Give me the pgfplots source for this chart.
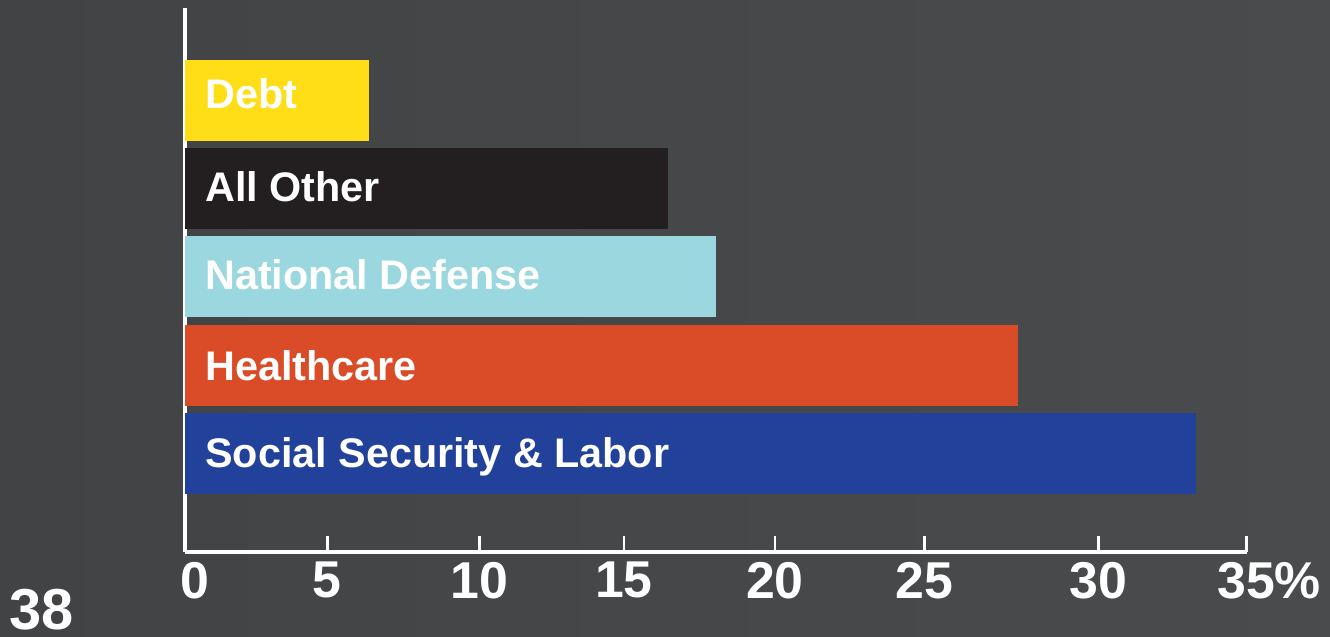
\documentclass[border=0pt]{standalone}
\usepackage{fontspec}
\setmainfont{Liberation Sans}
\usepackage{pgfplots}
\pgfplotsset{compat=1.18}
\definecolor{cdebt}{HTML}{FFDE17}
\definecolor{cother}{HTML}{231F20}
\definecolor{cdef}{HTML}{9BD7DF}
\definecolor{chealth}{HTML}{DA4C27}
\definecolor{css}{HTML}{22419A}
\definecolor{bgL}{HTML}{424345}
\definecolor{bgM}{HTML}{545557}
\definecolor{bgR}{HTML}{4A4B4D}
\begin{document}
\begin{tikzpicture}
\shade[left color=bgL, middle color=bgM, right color=bgR] (0bp,0bp) rectangle (1330bp,637bp);
\begin{axis}[
  at={(185bp,85bp)}, anchor=south west,
  scale only axis, width=1061.7bp, height=543.7bp,
  xmin=0, xmax=35, ymin=-1.119, ymax=5.045,
  axis x line=bottom, axis y line=left,
  axis line style={white, line width=3.3bp, -},
  xtick={0,4.69,9.70,14.47,19.45,24.37,30.11,35},
  xticklabels={\makebox[0pt][l]{\kern-5bp 0},5,10,15,20,25,30,35\rlap{\kern-1bp\%}},
  ytick=\empty,
  xtick align=inside,
  major tick length=16bp,
  tick style={white, line width=2.8bp},
  xticklabel style={text=white, font=\fontsize{52}{60}\selectfont\bfseries, inner sep=0pt, anchor=north, yshift=-9.7bp},
]
\addplot[xbar, bar shift=0pt, bar width=81bp, fill=css, draw=none] coordinates {(33.33,0)};
\addplot[xbar, bar shift=0pt, bar width=81bp, fill=chealth, draw=none] coordinates {(27.46,1)};
\addplot[xbar, bar shift=0pt, bar width=81bp, fill=cdef, draw=none] coordinates {(17.51,2)};
\addplot[xbar, bar shift=0pt, bar width=81bp, fill=cother, draw=none] coordinates {(15.91,3)};
\addplot[xbar, bar shift=0pt, bar width=81bp, fill=cdebt, draw=none] coordinates {(6.06,4)};
\tikzset{blab/.style={anchor=base west, inner sep=0pt, text=white, font=\fontsize{41.5}{48}\selectfont\bfseries, xshift=20bp}}
\node[blab, yshift=-14.7bp] at (axis cs:0,0) {Social Security \& Labor};
\node[blab, yshift=-15.2bp] at (axis cs:0,1) {Healthcare};
\node[blab, yshift=-12.3bp] at (axis cs:0,2) {National Defense};
\node[blab, yshift=-12.4bp] at (axis cs:0,3) {All Other};
\node[blab, yshift=-7.8bp] at (axis cs:0,4) {Debt};
\end{axis}
\node[anchor=base west, inner sep=0pt, text=white, font=\fontsize{58}{66}\selectfont\bfseries] at (9bp,8bp) {38};
\end{tikzpicture}
\end{document}
